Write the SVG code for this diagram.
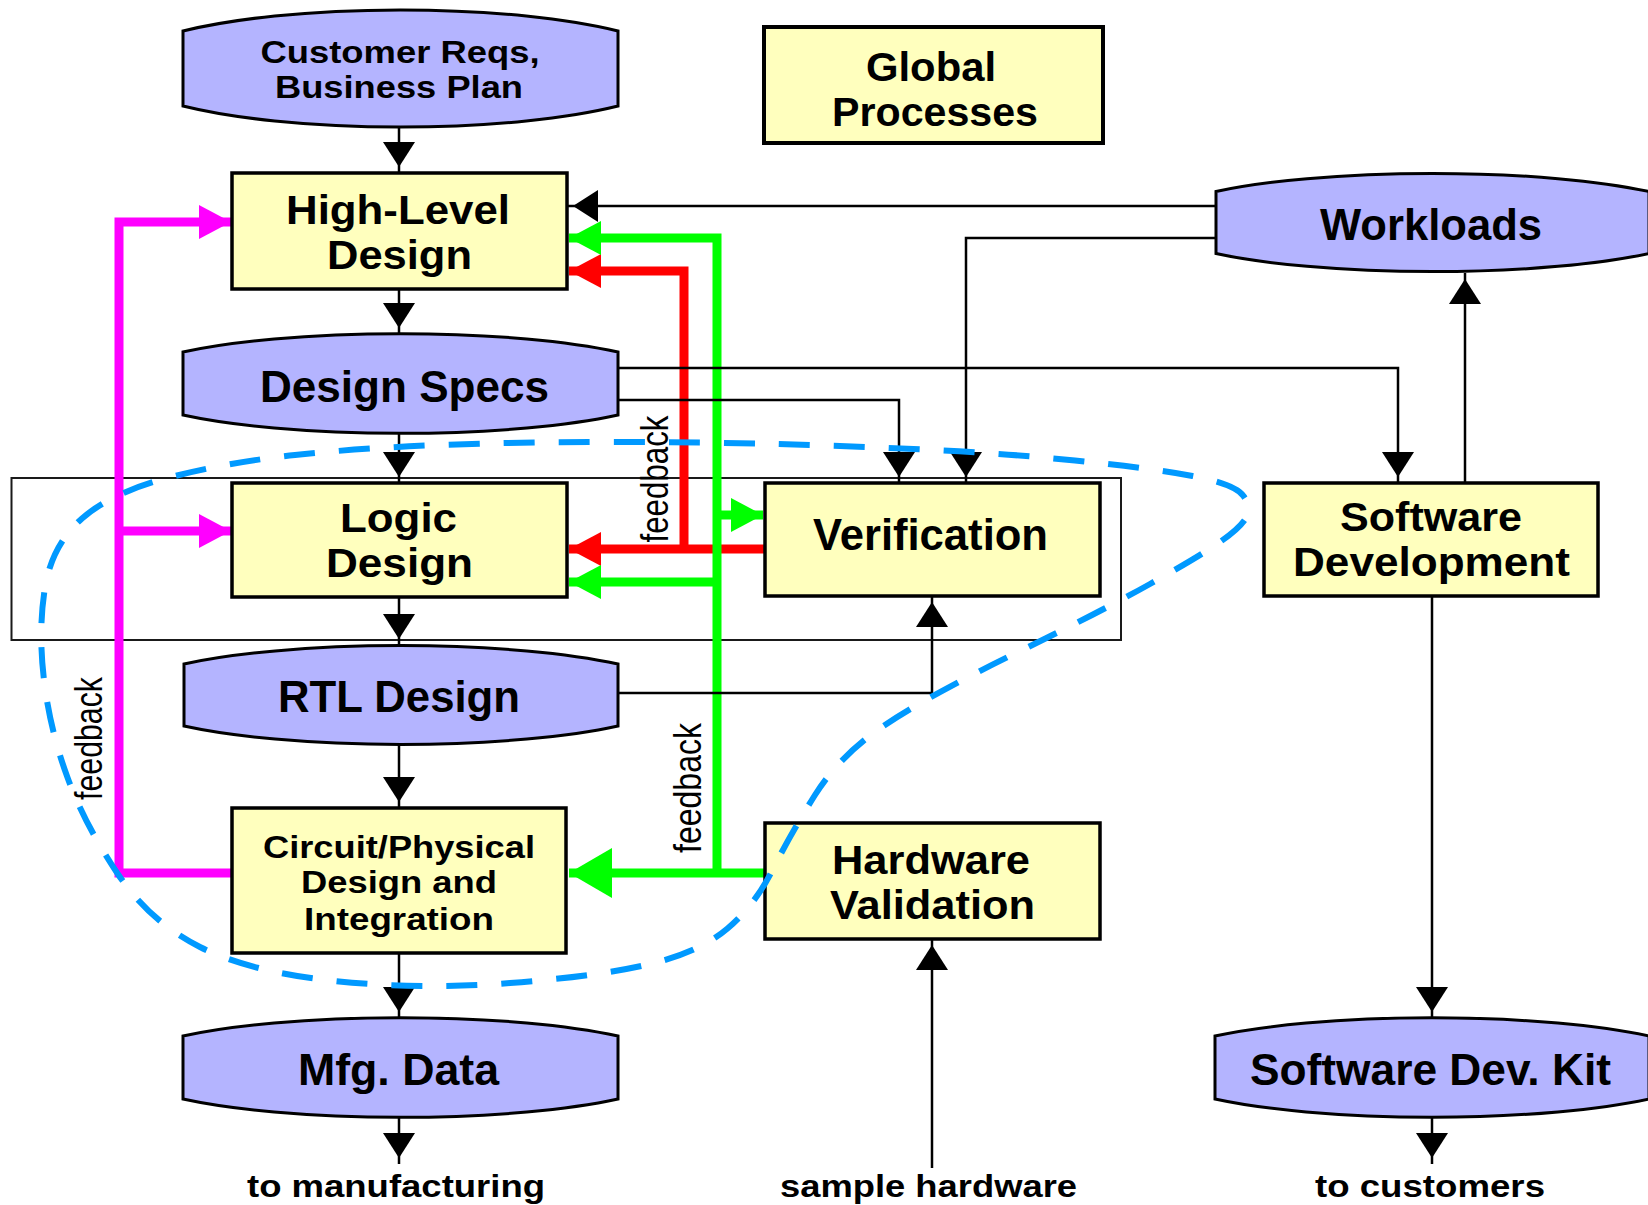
<svg xmlns="http://www.w3.org/2000/svg" width="1648" height="1205" viewBox="0 0 1648 1205">
<style>
  .oval { fill:#B4B4FF; stroke:#000; stroke-width:3; }
  .box { fill:#FFFFBE; stroke:#000; stroke-width:3.5; }
  .t { font-family:"Liberation Sans", Arial, sans-serif; font-weight:bold; fill:#000; text-anchor:middle; }
  .big { font-size:44px; }
  .two { font-size:40px; }
  .mid { font-size:31px; }
  .lbl { font-size:32px; }
  .fb { font-family:"Liberation Sans", Arial, sans-serif; font-weight:normal; font-size:38px; fill:#000; text-anchor:middle; }
  .thin { fill:none; stroke:#000; stroke-width:2.5; }
  .red { fill:none; stroke:#FF0000; stroke-width:9; }
  .green { fill:none; stroke:#00FF00; stroke-width:9; }
  .mag { fill:none; stroke:#FF00FF; stroke-width:9; }
  .frame { fill:none; stroke:#1a1a1a; stroke-width:2; }
  .boundary { fill:none; stroke:#0099FF; stroke-width:6; stroke-dasharray:31 24; }
</style>
<defs>
  <marker id="ah" markerUnits="userSpaceOnUse" viewBox="0 -17 32 34" markerWidth="32" markerHeight="34" refX="31" refY="0" orient="auto"><path d="M0,-16 L25,0 L0,16 Z" fill="#000"/></marker>
  <marker id="ah-red" markerUnits="userSpaceOnUse" viewBox="0 -19 34 38" markerWidth="34" markerHeight="38" refX="32" refY="0" orient="auto"><path d="M0,-17 L32,0 L0,17 Z" fill="#FF0000"/></marker>
  <marker id="ah-green" markerUnits="userSpaceOnUse" viewBox="0 -19 34 38" markerWidth="34" markerHeight="38" refX="32" refY="0" orient="auto"><path d="M0,-17 L32,0 L0,17 Z" fill="#00FF00"/></marker>
  <marker id="ah-green-big" markerUnits="userSpaceOnUse" viewBox="0 -26 46 52" markerWidth="46" markerHeight="52" refX="43" refY="0" orient="auto"><path d="M0,-25 L43,0 L0,25 Z" fill="#00FF00"/></marker>
  <marker id="ah-mag" markerUnits="userSpaceOnUse" viewBox="0 -19 34 38" markerWidth="34" markerHeight="38" refX="32" refY="0" orient="auto"><path d="M0,-17 L32,0 L0,17 Z" fill="#FF00FF"/></marker>
</defs>
<rect x="0" y="0" width="1648" height="1205" fill="#FFFFFF"/>

<g id="logic-verification-frame">
  <rect class="frame" x="11.5" y="478" width="1109.5" height="162"/>
</g>

<g id="connectors">
  <path class="mag" d="M232,873 L119,873 L119,222 L231,222" marker-end="url(#ah-mag)"/>
  <path class="mag" d="M119,531 L231,531" marker-end="url(#ah-mag)"/>
  <path class="red" d="M765,549 L569,549" marker-end="url(#ah-red)"/>
  <path class="red" d="M684,549 L684,271 L569,271" marker-end="url(#ah-red)"/>
  <path class="green" d="M765,873 L569,873" marker-end="url(#ah-green-big)"/>
  <path class="green" d="M717,873 L717,238 L569,238" marker-end="url(#ah-green)"/>
  <path class="green" d="M717,582 L569,582" marker-end="url(#ah-green)"/>
  <path class="green" d="M717,515 L763,515" marker-end="url(#ah-green)"/>

  <path class="thin" d="M399,127 L399,173" marker-end="url(#ah)"/>
  <path class="thin" d="M399,289 L399,334" marker-end="url(#ah)"/>
  <path class="thin" d="M399,433 L399,483" marker-end="url(#ah)"/>
  <path class="thin" d="M399,597 L399,645" marker-end="url(#ah)"/>
  <path class="thin" d="M399,745 L399,808" marker-end="url(#ah)"/>
  <path class="thin" d="M399,953 L399,1018" marker-end="url(#ah)"/>
  <path class="thin" d="M399,1117 L399,1164" marker-end="url(#ah)"/>
  <path class="thin" d="M1216,206 L567,206" marker-end="url(#ah)"/>
  <path class="thin" d="M1216,238 L966,238 L966,483" marker-end="url(#ah)"/>
  <path class="thin" d="M618,400 L899,400 L899,483" marker-end="url(#ah)"/>
  <path class="thin" d="M618,368 L1398,368 L1398,483" marker-end="url(#ah)"/>
  <path class="thin" d="M1465,483 L1465,273" marker-end="url(#ah)"/>
  <path class="thin" d="M1432,596 L1432,1018" marker-end="url(#ah)"/>
  <path class="thin" d="M1432,1117 L1432,1164" marker-end="url(#ah)"/>
  <path class="thin" d="M618,693 L932,693 L932,596" marker-end="url(#ah)"/>
  <path class="thin" d="M932,1168 L932,939" marker-end="url(#ah)"/>
</g>

<g id="node-customer-reqs">
  <path class="oval" d="M183,31 A283,58.5 0 0 1 618,31 L618,106 A283,58.5 0 0 1 183,106 Z"/>
  <text class="t mid" x="400" y="63" textLength="279" lengthAdjust="spacingAndGlyphs">Customer Reqs,</text>
  <text class="t mid" x="399" y="98" textLength="248" lengthAdjust="spacingAndGlyphs">Business Plan</text>
</g>
<g id="node-global-processes">
  <rect class="box" x="764" y="27" width="339" height="116" style="stroke-width:4"/>
  <text class="t two" x="931" y="80.5" textLength="130" lengthAdjust="spacingAndGlyphs">Global</text>
  <text class="t two" x="935" y="125.5" textLength="206" lengthAdjust="spacingAndGlyphs">Processes</text>
</g>
<g id="node-high-level-design">
  <rect class="box" x="232" y="173" width="335" height="116"/>
  <text class="t two" x="398" y="224" textLength="224" lengthAdjust="spacingAndGlyphs">High-Level</text>
  <text class="t two" x="399.5" y="269" textLength="145" lengthAdjust="spacingAndGlyphs">Design</text>
</g>
<g id="node-workloads">
  <path class="oval" d="M1216,191.5 A280,49.5 0 0 1 1649,191.5 L1649,253.5 A280,49.5 0 0 1 1216,253.5 Z"/>
  <text class="t big" x="1431" y="240" textLength="222" lengthAdjust="spacingAndGlyphs">Workloads</text>
</g>
<g id="node-design-specs">
  <path class="oval" d="M183,352 A280,49.5 0 0 1 618,352 L618,415 A280,49.5 0 0 1 183,415 Z"/>
  <text class="t big" x="404.5" y="402" textLength="289" lengthAdjust="spacingAndGlyphs">Design Specs</text>
</g>
<g id="node-logic-design">
  <rect class="box" x="232" y="483" width="335" height="114"/>
  <text class="t two" x="398.5" y="532" textLength="117" lengthAdjust="spacingAndGlyphs">Logic</text>
  <text class="t two" x="399.5" y="577" textLength="147" lengthAdjust="spacingAndGlyphs">Design</text>
</g>
<g id="node-verification">
  <rect class="box" x="765" y="483" width="335" height="113"/>
  <text class="t big" x="930.5" y="550" textLength="235" lengthAdjust="spacingAndGlyphs">Verification</text>
</g>
<g id="node-software-development">
  <rect class="box" x="1264" y="483" width="334" height="113"/>
  <text class="t two" x="1431" y="531" textLength="182" lengthAdjust="spacingAndGlyphs">Software</text>
  <text class="t two" x="1431.5" y="576" textLength="277" lengthAdjust="spacingAndGlyphs">Development</text>
</g>
<g id="node-rtl-design">
  <path class="oval" d="M184,664 A280,50 0 0 1 618,664 L618,726 A280,50 0 0 1 184,726 Z"/>
  <text class="t big" x="399" y="712" textLength="242" lengthAdjust="spacingAndGlyphs">RTL Design</text>
</g>
<g id="node-circuit-physical">
  <rect class="box" x="232" y="808" width="334" height="145"/>
  <text class="t mid" x="399" y="858" textLength="272" lengthAdjust="spacingAndGlyphs">Circuit/Physical</text>
  <text class="t mid" x="399" y="893" textLength="196" lengthAdjust="spacingAndGlyphs">Design and</text>
  <text class="t mid" x="399" y="930" textLength="190" lengthAdjust="spacingAndGlyphs">Integration</text>
</g>
<g id="node-hardware-validation">
  <rect class="box" x="765" y="823" width="335" height="116"/>
  <text class="t two" x="931" y="874" textLength="198" lengthAdjust="spacingAndGlyphs">Hardware</text>
  <text class="t two" x="932.5" y="919" textLength="205" lengthAdjust="spacingAndGlyphs">Validation</text>
</g>
<g id="node-mfg-data">
  <path class="oval" d="M183,1036 A280,49.5 0 0 1 618,1036 L618,1099 A280,49.5 0 0 1 183,1099 Z"/>
  <text class="t big" x="398.5" y="1085" textLength="201" lengthAdjust="spacingAndGlyphs">Mfg. Data</text>
</g>
<g id="node-software-dev-kit">
  <path class="oval" d="M1215,1036 A280,49.5 0 0 1 1649,1036 L1649,1099 A280,49.5 0 0 1 1215,1099 Z"/>
  <text class="t big" x="1430.5" y="1085" textLength="361" lengthAdjust="spacingAndGlyphs">Software Dev. Kit</text>
</g>

<g id="labels">
  <text class="t lbl" x="396" y="1197" textLength="298" lengthAdjust="spacingAndGlyphs">to manufacturing</text>
  <text class="t lbl" x="928.5" y="1197" textLength="297" lengthAdjust="spacingAndGlyphs">sample hardware</text>
  <text class="t lbl" x="1430" y="1197" textLength="230" lengthAdjust="spacingAndGlyphs">to customers</text>
  <text class="fb" transform="translate(668,479) rotate(-90)" textLength="127" lengthAdjust="spacingAndGlyphs">feedback</text>
  <text class="fb" transform="translate(102,738.5) rotate(-90)" textLength="123" lengthAdjust="spacingAndGlyphs">feedback</text>
  <text class="fb" transform="translate(701,788) rotate(-90)" textLength="130" lengthAdjust="spacingAndGlyphs">feedback</text>
</g>

<g id="boundary">
  <path class="boundary" d="M1243.5,496 Q1235,484 1192.5,476 Q1150,468 1075,460.5 Q1000,453 925,449.5 Q850,446 775,444 Q700,442 610,442 Q520,442 440,445 Q360,448 295,455 Q230,462 171,477 Q112,492 82,518.5 Q52,545 45,587.5 Q38,630 44,680 Q50,730 67.5,777.5 Q85,825 117.5,873.5 Q150,922 200,947 Q250,972 335,981 Q420,990 510,983 Q600,976 650,964 Q700,952 727.5,928.5 Q755,905 772.5,870 Q790,835 815,795 Q840,755 885,725 Q930,695 1015,653.5 Q1100,612 1150,584 Q1200,556 1220,542 Q1240,528 1246,518 Q1252,508 1243.5,496 Z"/>
</g>
</svg>
